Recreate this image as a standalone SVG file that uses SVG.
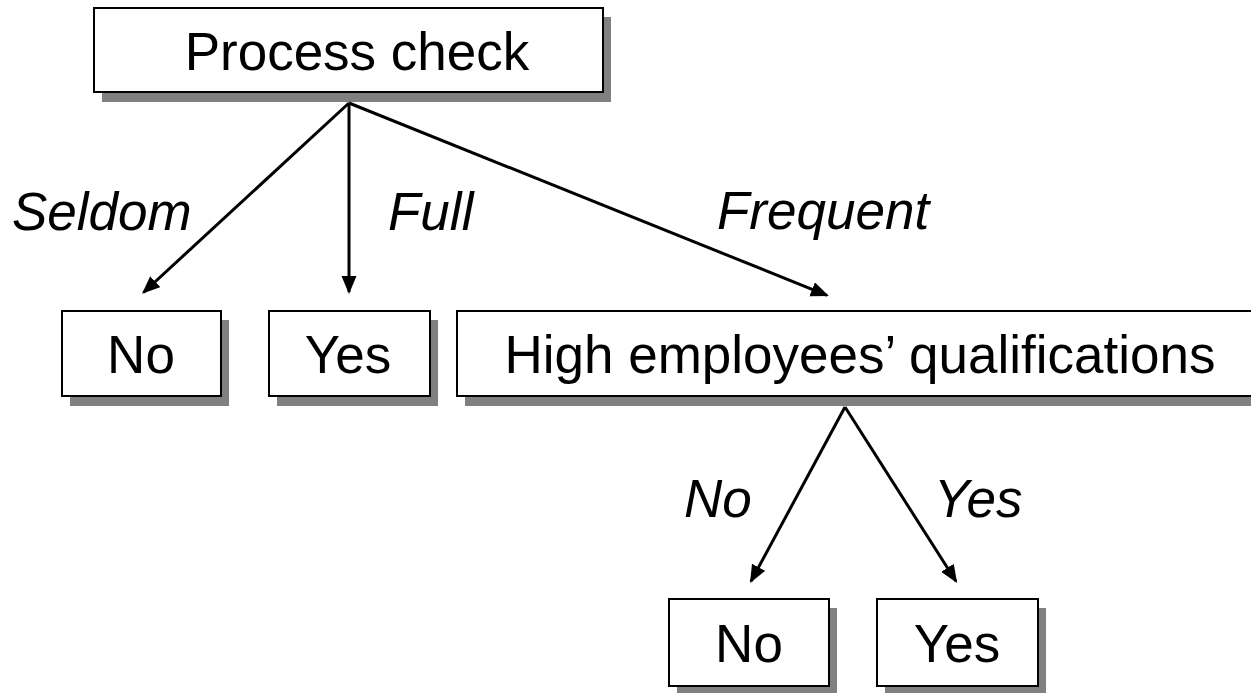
<svg xmlns="http://www.w3.org/2000/svg" width="1251" height="693" viewBox="0 0 1251 693">
<defs>
<style>
.box{fill:#fff;stroke:#000;stroke-width:2}
.sh{fill:#808080}
.t{font-family:"Liberation Sans",Arial,sans-serif;font-size:53px;fill:#000}
.c{text-anchor:middle}
.i{font-style:italic}
.ln{stroke:#000;stroke-width:3;fill:none;marker-end:url(#ah)}
</style>
<marker id="ah" markerUnits="userSpaceOnUse" markerWidth="20" markerHeight="16" refX="16" refY="7.5" orient="auto">
<path d="M0,0 L18,7.5 L0,15 z" fill="#000"/>
</marker>
</defs>
<rect width="1251" height="693" fill="#fff"/>
<g id="process-check">
<rect class="sh" x="102" y="17" width="509" height="85"/>
<rect class="box" x="94" y="8" width="509" height="84"/>
<text class="t c" x="357" y="70">Process check</text>
</g>
<g id="no-1">
<rect class="sh" x="70" y="320" width="159" height="86"/>
<rect class="box" x="62" y="311" width="159" height="85"/>
<text class="t c" x="141" y="373">No</text>
</g>
<g id="yes-1">
<rect class="sh" x="277" y="320" width="161" height="86"/>
<rect class="box" x="269" y="311" width="161" height="85"/>
<text class="t c" x="348" y="373">Yes</text>
</g>
<g id="qualifications">
<rect class="sh" x="465" y="320" width="796" height="86"/>
<rect class="box" x="457" y="311" width="796" height="85"/>
<text class="t c" x="860" y="373">High employees’ qualifications</text>
</g>
<g id="no-2">
<rect class="sh" x="677" y="608" width="160" height="86"/>
<rect class="box" x="669" y="599" width="160" height="87"/>
<text class="t c" x="749" y="662">No</text>
</g>
<g id="yes-2">
<rect class="sh" x="885" y="608" width="161" height="86"/>
<rect class="box" x="877" y="599" width="161" height="87"/>
<text class="t c" x="957" y="662">Yes</text>
</g>
<g id="connectors">
<line class="ln" x1="349" y1="103" x2="143.5" y2="292.5"/>
<line class="ln" x1="349" y1="103" x2="349" y2="292"/>
<line class="ln" x1="349" y1="103" x2="827" y2="295.3"/>
<line class="ln" x1="845" y1="407" x2="751" y2="581.3"/>
<line class="ln" x1="845" y1="407" x2="956" y2="581.3"/>
</g>
<g id="labels">
<text class="t i" x="12" y="230">Seldom</text>
<text class="t i" x="388" y="230">Full</text>
<text class="t i" x="717" y="229">Frequent</text>
<text class="t i" x="684" y="517">No</text>
<text class="t i" x="934" y="517">Yes</text>
</g>
</svg>
